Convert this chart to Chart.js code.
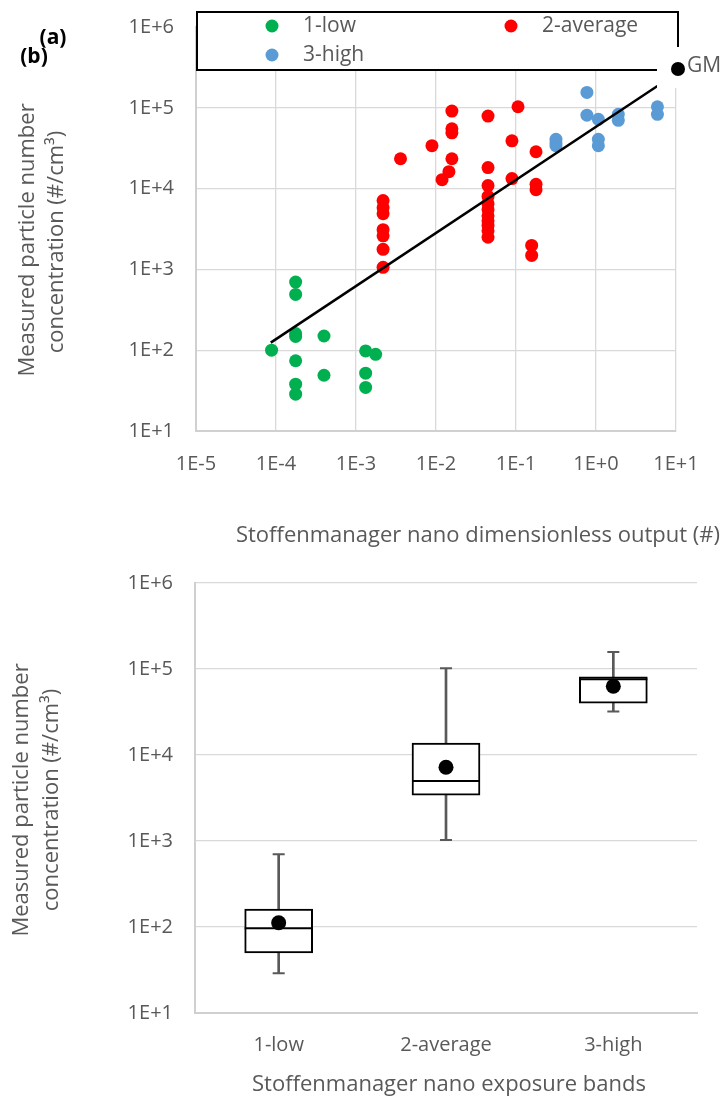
<!DOCTYPE html>
<html lang="en">

<head>
    <meta charset="UTF-8">
    <script src="https://cdn.jsdelivr.net/npm/chart.js"></script>
    <title>Stoffenmanager nano</title>
    <style>
        body { margin: 0; background: #fff; }
        canvas { position: absolute; left: 0; }
    </style>
</head>

<body>
    <canvas id="scatter" width="724" height="560" style="top:0"></canvas>
    <canvas id="box" width="724" height="551" style="top:560px"></canvas>
    <script>
        const FONT = "'Open Sans', sans-serif"
        const GREY = '#595959'

        // axis ticks
        const yTicks = [1e1, 1e2, 1e3, 1e4, 1e5, 1e6]
        const yTickLabels = ['1E+1', '1E+2', '1E+3', '1E+4', '1E+5', '1E+6']
        const xTicks = [1e-5, 1e-4, 1e-3, 1e-2, 1e-1, 1e0, 1e1]
        const xTickLabels = ['1E-5', '1E-4', '1E-3', '1E-2', '1E-1', '1E+0', '1E+1']

        // (a) scatter
        const lowX = [8.8e-5, 1.76e-4, 1.76e-4, 1.76e-4, 1.76e-4, 1.76e-4, 1.76e-4, 1.76e-4, 3.98e-4, 3.98e-4, 1.32e-3, 1.32e-3, 1.32e-3, 1.76e-3]
        const lowY = [100, 697, 490, 161, 148, 74, 38, 28.6, 150, 49, 98, 52, 34.6, 89]

        const avgX = [2.18e-3, 2.18e-3, 2.18e-3, 2.18e-3, 2.18e-3, 2.18e-3, 2.18e-3,
            3.6e-3, 8.9e-3, 1.19e-2, 1.45e-2, 1.58e-2, 1.58e-2, 1.58e-2, 1.58e-2,
            4.47e-2, 4.47e-2, 4.47e-2, 4.47e-2, 4.47e-2, 4.47e-2, 4.47e-2, 4.47e-2, 4.47e-2, 4.47e-2, 4.47e-2,
            8.9e-2, 8.9e-2, 0.106, 0.178, 0.178, 0.178, 0.157, 0.157]
        const avgY = [7100, 5800, 4900, 3100, 2600, 1770, 1060,
            23400, 34000, 12900, 16200, 91000, 55000, 49000, 23400,
            79000, 18200, 10900, 8000, 6500, 5500, 4600, 4000, 3500, 3000, 2500,
            39000, 13300, 103000, 28600, 11300, 9700, 1980, 1490]

        const highX = [0.316, 0.316, 0.316, 0.77, 0.77, 1.07, 1.07, 1.07, 1.9, 1.9, 5.86, 5.86]
        const highY = [40800, 37000, 34000, 155000, 81000, 72000, 40800, 34000, 83000, 70000, 103000, 83000]

        const gmX = [8.6e-5, 5.86]
        const gmY = [124, 186000]

        // (b) box plot per exposure band
        const bands = ['1-low', '2-average', '3-high']
        const boxMin = [29, 1030, 32000]
        const boxQ1 = [50, 3400, 40000]
        const boxMedian = [97, 5000, 76000]
        const boxQ3 = [162, 13800, 81000]
        const boxMax = [700, 102000, 158000]
        const boxMean = [112, 7200, 63000]

        const pairs = (xs, ys) => xs.map((x, i) => ({ x, y: ys[i] }))

        function dot(ctx, x, y, r, color) {
            ctx.fillStyle = color
            ctx.beginPath()
            ctx.arc(x, y, r, 0, Math.PI * 2)
            ctx.fill()
        }

        function vText(ctx, text, x, y) {
            ctx.save()
            ctx.translate(x, y)
            ctx.rotate(-Math.PI / 2)
            ctx.fillText(text, 0, 0)
            ctx.restore()
        }

        // keep the plot area where the layout padding puts it
        const noEdgePad = s => { s.paddingTop = 0; s.paddingBottom = 0; s.paddingLeft = 0; s.paddingRight = 0 }

        const logY = (width) => ({
            type: 'logarithmic',
            min: 10,
            max: 1e6,
            afterBuildTicks: s => { s.ticks = yTicks.map(v => ({ value: v })) },
            afterFit: s => { s.width = width; noEdgePad(s) },
            grid: { color: '#D9D9D9', lineWidth: 1.3, drawTicks: false },
            border: { color: '#D0D0D0', width: 2 },
            ticks: {
                padding: 22,
                color: GREY,
                font: { family: FONT, size: 20 },
                callback: (v, i) => yTickLabels[i]
            }
        })

        const scatterText = {
            id: 'scatterText',
            afterDraw: (chart) => {
                const ctx = chart.ctx
                const sets = chart.data.datasets
                ctx.save()
                // legend box
                ctx.fillStyle = '#fff'
                ctx.fillRect(197, 12, 481, 58)
                ctx.strokeStyle = '#000'
                ctx.lineWidth = 2
                ctx.strokeRect(197, 12, 481, 58)
                ctx.font = '21px ' + FONT
                ctx.textBaseline = 'middle'
                ctx.textAlign = 'left'
                const items = [[sets[1], 272, 26], [sets[2], 511, 26], [sets[3], 272, 55]]
                items.forEach(([ds, x, y]) => {
                    dot(ctx, x, y, 6.5, ds.backgroundColor)
                    ctx.fillStyle = GREY
                    ctx.fillText(ds.label, x + 31, y)
                })
                // GM entry spills out of the box
                ctx.fillStyle = '#fff'
                ctx.fillRect(657, 47, 67, 41)
                dot(ctx, 678, 69, 7, '#000')
                ctx.fillStyle = GREY
                ctx.fillText(sets[0].label, 687, 66)

                // axis titles
                ctx.fillStyle = GREY
                ctx.textAlign = 'center'
                ctx.font = '22px ' + FONT
                vText(ctx, 'Measured particle number', 28, 240)
                vText(ctx, 'concentration (#/cm³)', 57, 242)
                ctx.fillText('Stoffenmanager nano dimensionless output (#)', 478, 536)

                // panel labels
                ctx.fillStyle = '#000'
                ctx.font = 'bold 21px ' + FONT
                ctx.fillText('(b)', 34, 57)
                ctx.fillText('(a)', 53, 38)
                ctx.restore()
            }
        }

        new Chart(document.getElementById('scatter'), {
            type: 'scatter',
            data: {
                datasets: [
                    { label: 'GM', type: 'line', data: pairs(gmX, gmY), borderColor: '#000', borderWidth: 2.5, pointRadius: 0, order: 0 },
                    { label: '1-low', data: pairs(lowX, lowY), backgroundColor: '#00B050', pointRadius: 6.5, borderWidth: 0, order: 1 },
                    { label: '2-average', data: pairs(avgX, avgY), backgroundColor: '#FF0000', pointRadius: 6.5, borderWidth: 0, order: 1 },
                    { label: '3-high', data: pairs(highX, highY), backgroundColor: '#5B9BD5', pointRadius: 6.5, borderWidth: 0, order: 1 }
                ]
            },
            options: {
                responsive: false,
                animation: false,
                devicePixelRatio: 1,
                events: [],
                layout: { autoPadding: false, padding: { top: 27, right: 48, left: 0, bottom: 0 } },
                plugins: { legend: { display: false }, tooltip: { enabled: false } },
                scales: {
                    x: {
                        type: 'logarithmic',
                        min: 1e-5,
                        max: 10,
                        afterBuildTicks: s => { s.ticks = xTicks.map(v => ({ value: v })) },
                        afterFit: s => { s.height = 129; noEdgePad(s) },
                        grid: { color: '#D9D9D9', lineWidth: 1.3, drawTicks: false },
                        border: { color: '#D0D0D0', width: 2 },
                        ticks: {
                            padding: 21,
                            autoSkip: false,
                            maxRotation: 0,
                            color: GREY,
                            font: { family: FONT, size: 20 },
                            callback: (v, i) => xTickLabels[i]
                        }
                    },
                    y: logY(196)
                }
            },
            plugins: [scatterText]
        })

        const boxExtras = {
            id: 'boxExtras',
            afterDatasetDraw: (chart, args) => {
                if (args.index !== 1) return
                const ctx = chart.ctx
                const xs = chart.scales.x
                const ys = chart.scales.y
                ctx.save()
                bands.forEach((b, i) => {
                    const cx = xs.getPixelForValue(i)
                    ctx.strokeStyle = GREY
                    ctx.lineWidth = 2
                    ctx.beginPath()
                    ;[boxMin[i], boxMax[i]].forEach(v => {
                        const py = ys.getPixelForValue(v)
                        ctx.moveTo(cx - 6, py)
                        ctx.lineTo(cx + 6, py)
                    })
                    ctx.stroke()
                    const my = ys.getPixelForValue(boxMedian[i])
                    ctx.strokeStyle = '#000'
                    ctx.beginPath()
                    ctx.moveTo(cx - 34, my)
                    ctx.lineTo(cx + 34, my)
                    ctx.stroke()
                })
                ctx.restore()
            },
            afterDraw: (chart) => {
                const ctx = chart.ctx
                ctx.save()
                ctx.fillStyle = GREY
                ctx.textAlign = 'center'
                ctx.textBaseline = 'middle'
                ctx.font = '22px ' + FONT
                vText(ctx, 'Measured particle number', 22, 240)
                vText(ctx, 'concentration (#/cm³)', 52, 240)
                ctx.fillText('Stoffenmanager nano exposure bands', 449, 525)
                ctx.restore()
            }
        }

        new Chart(document.getElementById('box'), {
            type: 'bar',
            data: {
                labels: bands,
                datasets: [
                    { data: bands.map((b, i) => [boxMin[i], boxMax[i]]), backgroundColor: GREY, barThickness: 2, grouped: false, order: 3 },
                    { data: bands.map((b, i) => [boxQ1[i], boxQ3[i]]), backgroundColor: '#fff', borderColor: '#000', borderWidth: 2, borderSkipped: false, barThickness: 68, grouped: false, order: 2 },
                    { type: 'line', data: boxMean, showLine: false, pointRadius: 7.5, pointBackgroundColor: '#000', pointBorderWidth: 0, order: 1 }
                ]
            },
            options: {
                responsive: false,
                animation: false,
                devicePixelRatio: 1,
                events: [],
                layout: { autoPadding: false, padding: { top: 23, right: 27, left: 0, bottom: 0 } },
                plugins: { legend: { display: false }, tooltip: { enabled: false } },
                scales: {
                    x: {
                        afterFit: s => { s.height = 98; noEdgePad(s) },
                        grid: { display: false, drawTicks: false },
                        border: { color: '#D0D0D0', width: 2 },
                        ticks: { padding: 20, color: GREY, font: { family: FONT, size: 20 } }
                    },
                    y: logY(195)
                }
            },
            plugins: [boxExtras]
        })
    </script>
</body>

</html>
